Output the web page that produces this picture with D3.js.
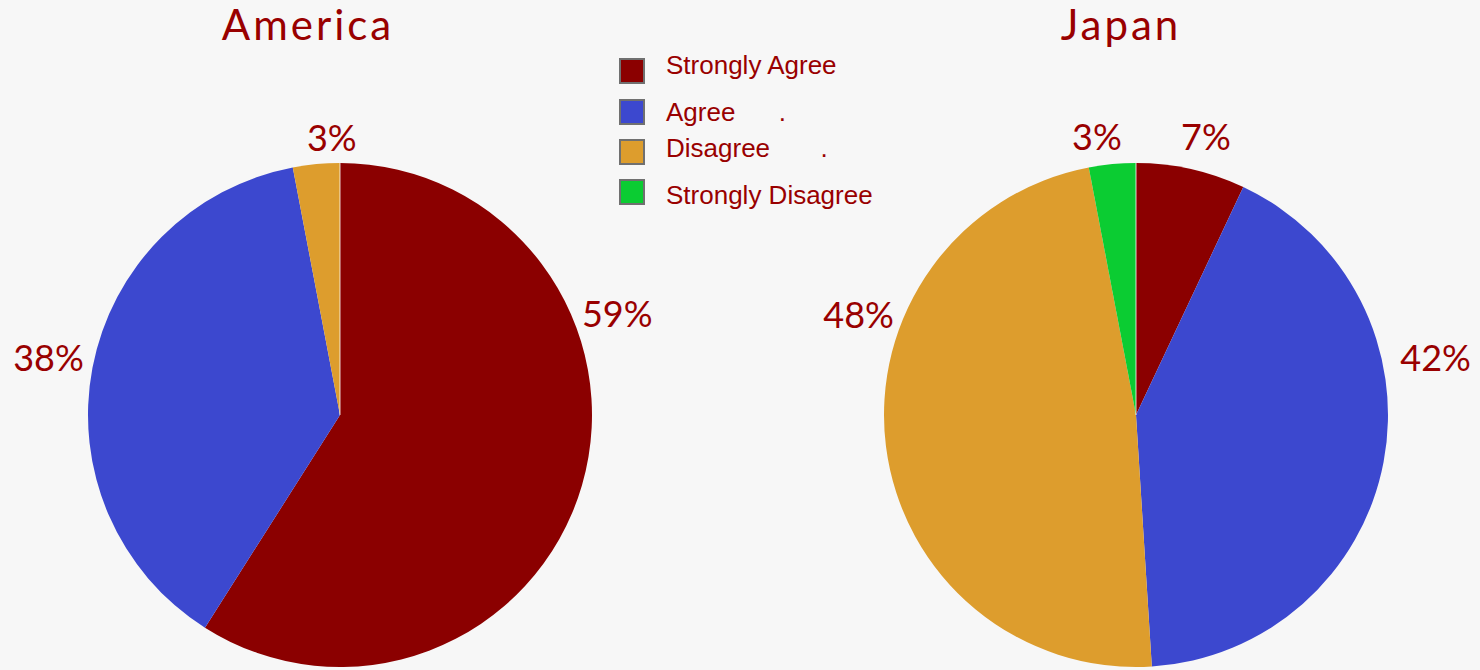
<!DOCTYPE html>
<html>
<head>
<meta charset="utf-8">
<script src="https://cdn.jsdelivr.net/npm/d3@7"></script>
<style>
  html, body { margin: 0; padding: 0; background: #f7f7f7; }
  svg { display: block; }
  .title { font-family: "Lato", sans-serif; font-weight: 400; fill: #990000; }
  .pct { font-family: "Lato", sans-serif; font-weight: 400; fill: #990000; }
  .legend text { font-family: "Liberation Sans", Arial, sans-serif; fill: #990000; white-space: pre; }
</style>
</head>
<body>
<svg id="chart" width="1480" height="670"></svg>
<script>
// Survey answers, share of respondents (%)
const categories = ["Strongly Agree", "Agree", "Disagree", "Strongly Disagree"];
const legendLabels = ["Strongly Agree", "Agree      .", "Disagree       .", "Strongly Disagree"];
const colors = ["#8b0000", "#3c48cf", "#dd9d2d", "#0bcc32"];

const countries = ["America", "Japan"];
const americaValues = [59, 38, 3, 0];
const japanValues = [7, 42, 48, 3];

// Where each percentage label sits around its pie: [angle in degrees clockwise from 12 o'clock, distance from centre]
const americaLabelPos = [[70, 295], [281, 297], [358.3, 277], null];
const japanLabelPos = [[14.1, 287], [79.2, 305], [289.9, 295], [352, 281]];

const W = 1480, H = 670;
const svg = d3.select("#chart");
svg.append("rect").attr("width", W).attr("height", H).attr("fill", "#f7f7f7");

const radius = 252;
const pies = [
  { name: countries[0], values: americaValues, labels: americaLabelPos, cx: 340, cy: 415, titleX: 308 },
  { name: countries[1], values: japanValues, labels: japanLabelPos, cx: 1136, cy: 415, titleX: 1121 }
];

const pie = d3.pie().sort(null).value(d => d.value);
const arc = d3.arc().innerRadius(0).outerRadius(radius);

pies.forEach(p => {
  const data = categories.map((c, i) => ({ cat: c, value: p.values[i], color: colors[i], lab: p.labels[i] }));
  const g = svg.append("g").attr("transform", `translate(${p.cx},${p.cy})`);

  g.selectAll("path.slice")
    .data(pie(data).filter(d => d.data.value > 0))
    .join("path")
    .attr("class", "slice")
    .attr("d", arc)
    .attr("fill", d => d.data.color);

  // thin light seam where the first slice begins
  g.append("line")
    .attr("x1", 0).attr("y1", 0).attr("x2", 0).attr("y2", -radius)
    .attr("stroke", "#ffffff").attr("stroke-width", 1).attr("opacity", 0.8);

  g.selectAll("text.pct")
    .data(data.filter(d => d.value > 0 && d.lab))
    .join("text")
    .attr("class", "pct")
    .attr("x", d => d.lab[1] * Math.sin(d.lab[0] * Math.PI / 180))
    .attr("y", d => -d.lab[1] * Math.cos(d.lab[0] * Math.PI / 180))
    .attr("dy", "0.36em")
    .attr("text-anchor", "middle")
    .attr("font-size", 36)
    .text(d => d.value + "%");

  svg.append("text")
    .attr("class", "title")
    .attr("x", p.titleX)
    .attr("y", 40)
    .attr("text-anchor", "middle")
    .attr("font-size", 42)
    .attr("letter-spacing", 3)
    .text(p.name);
});

// Legend
const legend = svg.append("g").attr("class", "legend");
const rowY = [59, 100, 140, 180];
const textY = [74, 121, 157, 204];
categories.forEach((c, i) => {
  legend.append("rect")
    .attr("x", 620).attr("y", rowY[i])
    .attr("width", 24).attr("height", 24)
    .attr("fill", colors[i])
    .attr("stroke", "#707070").attr("stroke-width", 2);
  legend.append("text")
    .attr("x", 666).attr("y", textY[i])
    .attr("font-size", 26)
    .text(legendLabels[i]);
});
</script>
</body>
</html>
